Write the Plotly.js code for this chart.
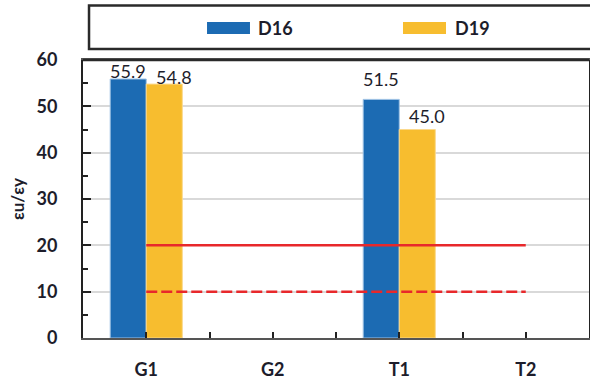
<!DOCTYPE html>
<html>
<head>
<meta charset="utf-8">
<script src="https://cdn.plot.ly/plotly-3.0.1.min.js"></script>
<style>
  html, body { margin: 0; padding: 0; background: #fff; }
  #chart { width: 590px; height: 379px; }
</style>
</head>
<body>
<div id="chart"></div>
<script>
// Specimen groups along the x axis
const categories = ['G1', 'G2', 'T1', 'T2'];

// Ductility ratio εu/εy per specimen series (no test for G2 / T2)
const seriesNames = ['D16', 'D19'];
const d16 = [55.9, null, 51.5, null];
const d19 = [54.8, null, 45.0, null];

// Reference limit lines spanning G1 … T2
const limitSolid = 20;
const limitDashed = 10;

// Axis tick labels
const yTicks = [0, 10, 20, 30, 40, 50, 60];

// ---- styling ----
const colors = { D16: '#1c6bb3', D19: '#f7bd2f' };
const edgeColors = { D16: '#9fc2e4', D19: '#fbd98c' };
const textColor = '#1d1d2b';
const font = 'Lato, "Open Sans", sans-serif';
// vertical lift (px) of each value label above its bar top
const labelLift = { D16: [8, 0, 20, 0], D19: [7, 0, 14, 0] };
// horizontal shift (px) of each series' value label from the group centre
const labelShift = { D16: -18, D19: 28 };

const xIdx = categories.map((_, i) => i);
const seriesValues = { D16: d16, D19: d19 };

const traces = seriesNames.map(name => ({
  type: 'bar',
  name: name,
  x: xIdx,
  y: seriesValues[name],
  marker: { color: colors[name], line: { color: edgeColors[name], width: 1 } },
  showlegend: false,
  hoverinfo: 'skip'
}));

const firstX = xIdx[0];
const lastX = xIdx[xIdx.length - 1];
traces.push({
  type: 'scatter', mode: 'lines',
  x: [firstX, lastX], y: [limitSolid, limitSolid],
  line: { color: '#e8282b', width: 2.5 },
  showlegend: false, hoverinfo: 'skip'
});
traces.push({
  type: 'scatter', mode: 'lines',
  x: [firstX, lastX], y: [limitDashed, limitDashed],
  line: { color: '#e8282b', width: 2.5, dash: '11px,4px' },
  showlegend: false, hoverinfo: 'skip'
});

// value labels above bars
const annotations = [];
seriesNames.forEach(name => {
  seriesValues[name].forEach((v, i) => {
    if (v === null) return;
    annotations.push({
      x: xIdx[i], y: v, xref: 'x', yref: 'y',
      text: v.toFixed(1),
      showarrow: false,
      xanchor: 'center', yanchor: 'middle',
      xshift: labelShift[name], yshift: labelLift[name][i],
      font: { family: font, size: 18, color: textColor }
    });
  });
});

// legend: swatch + name inside a framed band above the plot
const legendPos = { D16: [0.2451, 0.330, 0.3419], D19: [0.6324, 0.7174, 0.7312] };
const shapes = [
  { type: 'rect', xref: 'paper', yref: 'paper', x0: 0.0119, x1: 1.03, y0: 1.0396, y1: 1.196,
    line: { color: '#2a2a2a', width: 2.5 }, fillcolor: 'rgba(0,0,0,0)' },
  { type: 'line', xref: 'paper', yref: 'paper', x0: 0, x1: 1, y0: 1, y1: 1,
    line: { color: '#2a2a2a', width: 2.5 } }
];
seriesNames.forEach(name => {
  const p = legendPos[name];
  shapes.push({ type: 'rect', xref: 'paper', yref: 'paper', x0: p[0], x1: p[1], y0: 1.0935, y1: 1.1367,
    line: { width: 0 }, fillcolor: colors[name] });
  annotations.push({ xref: 'paper', yref: 'paper', x: p[2], y: 1.1151, text: name, showarrow: false,
    xanchor: 'left', yanchor: 'middle', font: { family: font, size: 18, color: textColor, weight: 'bold' } });
});

const xTickVals = [];
const xTickText = [];
xIdx.forEach((v, i) => {
  xTickVals.push(v); xTickText.push(categories[i]);
  if (i < xIdx.length - 1) { xTickVals.push(v + 0.5); xTickText.push(''); }
});

const layout = {
  width: 590, height: 379,
  margin: { l: 83, r: 1, t: 60, b: 41 },
  paper_bgcolor: '#fff', plot_bgcolor: '#fff',
  barmode: 'group', bargap: 0.43, bargroupgap: 0,
  font: { family: font, color: textColor },
  xaxis: {
    range: [-0.5, 3.5], tickmode: 'array', tickvals: xTickVals, ticktext: xTickText,
    ticks: 'inside', ticklen: 6, tickwidth: 2, tickcolor: '#222',
    showline: true, linecolor: '#555', linewidth: 2, mirror: true,
    showgrid: false, zeroline: false, ticklabelstandoff: 14,
    tickfont: { family: font, size: 18, color: textColor, weight: 'bold' }
  },
  yaxis: {
    range: [0, 60], tickmode: 'array', tickvals: yTicks,
    ticks: 'inside', ticklen: 8, tickwidth: 2, tickcolor: '#222',
    minor: { dtick: 5, ticks: 'inside', ticklen: 5, tickwidth: 2, tickcolor: '#222', showgrid: false },
    showline: true, linecolor: '#222', linewidth: 2, mirror: true,
    showgrid: true, gridcolor: '#d9d9d9', gridwidth: 2, zeroline: false,
    ticklabelstandoff: 20,
    tickfont: { family: font, size: 18, color: textColor, weight: 'bold' },
    title: { text: 'εu/εy', standoff: 8, font: { family: font, size: 17, color: textColor, weight: 'bold' } }
  },
  shapes: shapes,
  annotations: annotations,
  showlegend: false
};

Plotly.newPlot('chart', traces, layout, { displayModeBar: false, staticPlot: true });
</script>
</body>
</html>
